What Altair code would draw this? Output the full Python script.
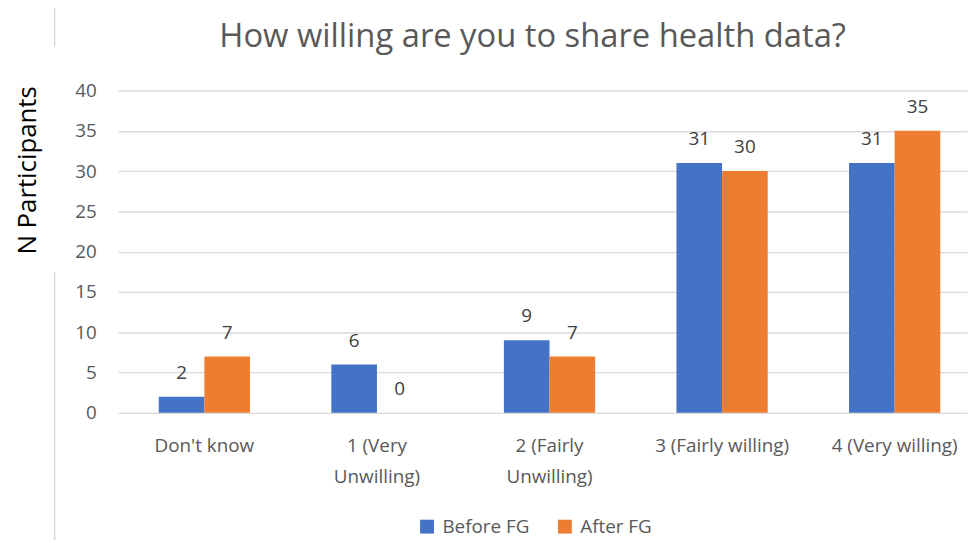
import altair as alt
import pandas as pd

categories = ["Don't know", "1 (Very Unwilling)", "2 (Fairly Unwilling)",
              "3 (Fairly willing)", "4 (Very willing)"]
series = ["Before FG", "After FG"]
before_fg = [2, 6, 9, 31, 31]
after_fg = [7, 0, 7, 30, 35]
colors = ["#4472C4", "#ED7D31"]
title_text = "How willing are you to share health data?"

rows = []
for c, b, a in zip(categories, before_fg, after_fg):
    rows.append({"category": c, "series": "Before FG", "value": b})
    rows.append({"category": c, "series": "After FG", "value": a})
df = pd.DataFrame(rows)

FONT = "Open Sans"
GRAY = "#595959"

x_enc = alt.X("category:N", sort=categories, title=None,
              scale=alt.Scale(paddingInner=0.4713, paddingOuter=0.1954, align=0.603),
              axis=alt.Axis(labelAngle=0, domain=False, ticks=False,
                            labelFont=FONT, labelFontSize=19, labelColor=GRAY,
                            labelPadding=24, labelLineHeight=31, labelLimit=300,
                            labelExpr="datum.label == '1 (Very Unwilling)' ? ['1 (Very', 'Unwilling)'] : datum.label == '2 (Fairly Unwilling)' ? ['2 (Fairly', 'Unwilling)'] : datum.label"))
y_enc = alt.Y("value:Q", scale=alt.Scale(domain=[0, 40], nice=False),
              axis=alt.Axis(values=[0, 5, 10, 15, 20, 25, 30, 35, 40], domain=False, ticks=False,
                            grid=True, gridColor="#D9D9D9", gridWidth=1.4,
                            labelFont=FONT, labelFontSize=19, labelColor=GRAY, labelPadding=22,
                            title="N Participants", titleFont=FONT, titleFontSize=26,
                            titleFontWeight="normal", titleColor="#000000",
                            titleX=-83, titleY=80, titleAlign="center",
                            titleBaseline="alphabetic", titleAngle=270))
xo = alt.XOffset("series:N", sort=series, scale=alt.Scale(paddingInner=0, paddingOuter=0))

bars = alt.Chart(df).mark_bar().encode(
    x=x_enc, y=y_enc, xOffset=xo,
    color=alt.Color("series:N", sort=series,
                    scale=alt.Scale(domain=series, range=colors),
                    legend=alt.Legend(title=None, orient="none", direction="horizontal",
                                      legendX=302, legendY=430, symbolType="square",
                                      symbolSize=196, symbolStrokeWidth=0,
                                      labelFont=FONT, labelFontSize=19, labelColor=GRAY,
                                      labelOffset=6, columnPadding=26)),
)

labels = alt.Chart(df).mark_text(font=FONT, fontSize=19, color="#404040",
                                 baseline="alphabetic", dy=-18).encode(
    x=alt.X("category:N", sort=categories), y="value:Q", xOffset=xo,
    text="value:Q",
)

title = alt.Chart(pd.DataFrame({"t": [title_text]})).mark_text(
    font=FONT, fontSize=33, color=GRAY, align="center", baseline="alphabetic").encode(
    x=alt.value(418), y=alt.value(-44), text="t:N")

border_top = alt.Chart(pd.DataFrame({"k": [0]})).mark_rule(color="#D9D9D9", strokeWidth=1.5).encode(
    x=alt.value(-64), y=alt.value(-97), y2=alt.value(-44))
border_bot = alt.Chart(pd.DataFrame({"k": [0]})).mark_rule(color="#D9D9D9", strokeWidth=1.5).encode(
    x=alt.value(-64), y=alt.value(183), y2=alt.value(460))

chart = alt.layer(border_top, border_bot, bars, labels, title).properties(
    width=856, height=325,
    padding={"left": 111, "top": 81, "right": 4, "bottom": 126},
    autosize=alt.AutoSizeParams(type="none"),
).configure_view(stroke=None)

chart.save("out.html", embed_options={"renderer": "svg", "actions": False})
